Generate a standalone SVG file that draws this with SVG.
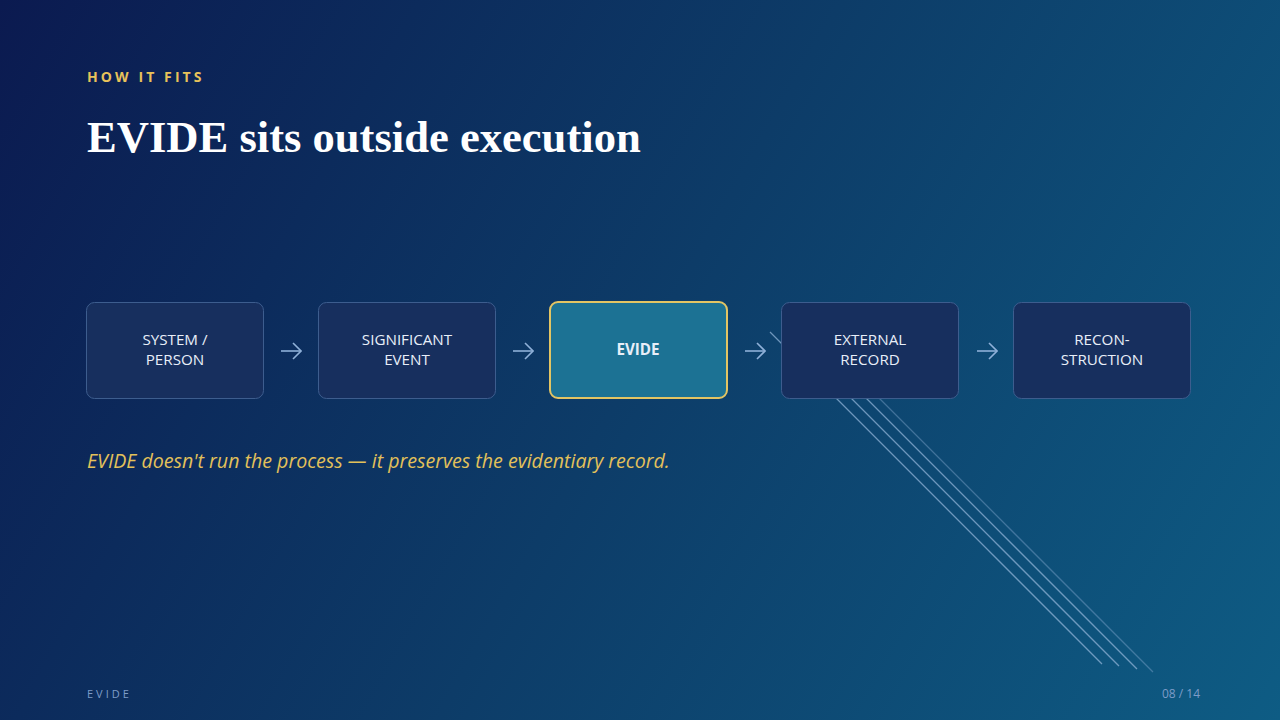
<svg xmlns="http://www.w3.org/2000/svg" width="1280" height="720" viewBox="0 0 1280 720">
<defs>
<linearGradient id="bg" x1="0" y1="0" x2="1280" y2="720" gradientUnits="userSpaceOnUse">
<stop offset="0" stop-color="#0b1a50"/>
<stop offset="0.5" stop-color="#0d3c68"/>
<stop offset="1" stop-color="#0e5c84"/>
</linearGradient>
<marker id="ah" viewBox="0 0 10 18" refX="9" refY="9" markerWidth="10" markerHeight="18" markerUnits="userSpaceOnUse" orient="auto">
<path d="M1,1 L9,9 L1,17" fill="none" stroke="#8fb0d8" stroke-width="1.6"/>
</marker>
<style>
.box{fill:#172f5e;stroke:#3d5d8e;stroke-width:1}
.hl{fill:#1c7294;stroke:#e3c563;stroke-width:2}
.lbl{font-family:"Open Sans","Noto Sans",sans-serif;font-size:15.2px;fill:#e8eef8;text-anchor:middle}
.arr{stroke:#8fb0d8;stroke-width:1.6;fill:none}
.dg{stroke:#8fb2d6;stroke-width:1.3;fill:none}
</style>
</defs>
<rect width="1280" height="720" fill="url(#bg)"/>
<g id="deco">
<line class="dg" x1="770" y1="332" x2="1102" y2="664" stroke-opacity="0.75"/>
<line class="dg" x1="785" y1="332" x2="1119" y2="666" stroke-opacity="0.75"/>
<line class="dg" x1="800" y1="332" x2="1137" y2="669" stroke-opacity="0.75"/>
<line class="dg" x1="813" y1="332" x2="1153" y2="672" stroke-opacity="0.4" stroke-width="1"/>
</g>
<text x="87" y="82" font-family="'Open Sans','Noto Sans',sans-serif" font-size="14" font-weight="bold" letter-spacing="3.1" fill="#e8c25a">HOW IT FITS</text>
<text x="87" y="152" font-family="'Liberation Serif','DejaVu Serif',serif" font-size="44.6" font-weight="bold" fill="#ffffff">EVIDE sits outside execution</text>
<g id="connectors">
<line class="arr" x1="281" y1="351" x2="301" y2="351" marker-end="url(#ah)"/>
<line class="arr" x1="513" y1="351" x2="533" y2="351" marker-end="url(#ah)"/>
<line class="arr" x1="745" y1="351" x2="765" y2="351" marker-end="url(#ah)"/>
<line class="arr" x1="977" y1="351" x2="997" y2="351" marker-end="url(#ah)"/>
</g>
<g id="n1"><rect class="box" x="86.5" y="302.5" width="177" height="96" rx="8"/><text class="lbl" x="175" y="345">SYSTEM /</text><text class="lbl" x="175" y="365">PERSON</text></g>
<g id="n2"><rect class="box" x="318.5" y="302.5" width="177" height="96" rx="8"/><text class="lbl" x="407" y="345">SIGNIFICANT</text><text class="lbl" x="407" y="365">EVENT</text></g>
<g id="n3"><rect class="hl" x="550" y="302" width="177" height="96" rx="8"/><text class="lbl" x="638" y="355" font-weight="bold">EVIDE</text></g>
<g id="n4"><rect class="box" x="781.5" y="302.5" width="177" height="96" rx="8"/><text class="lbl" x="870" y="345">EXTERNAL</text><text class="lbl" x="870" y="365">RECORD</text></g>
<g id="n5"><rect class="box" x="1013.5" y="302.5" width="177" height="96" rx="8"/><text class="lbl" x="1102" y="345">RECON-</text><text class="lbl" x="1102" y="365">STRUCTION</text></g>
<text x="87" y="468" font-family="'Open Sans','Noto Sans',sans-serif" font-size="19.6" font-style="italic" fill="#e3c15a">EVIDE doesn't run the process — it preserves the evidentiary record.</text>
<text x="87" y="698" font-family="'Open Sans','Noto Sans',sans-serif" font-size="11" letter-spacing="3" fill="#7d9cc8">EVIDE</text>
<text x="1200" y="698" font-family="'Open Sans','Noto Sans',sans-serif" font-size="12" text-anchor="end" fill="#7d9cc8">08 / 14</text>
</svg>
